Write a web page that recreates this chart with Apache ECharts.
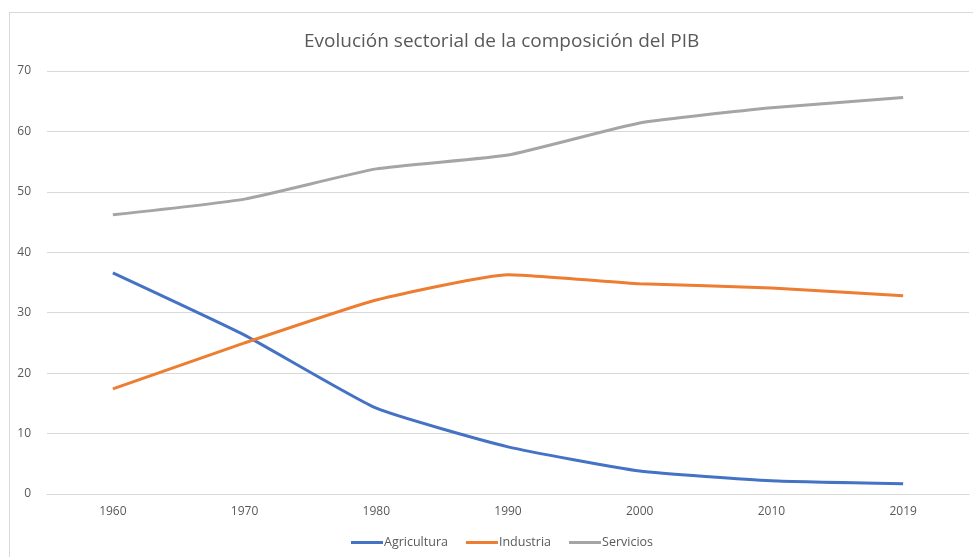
<!DOCTYPE html>
<html>
<head>
<meta charset="utf-8">
<script src="https://cdn.jsdelivr.net/npm/echarts@6/dist/echarts.min.js"></script>
<style>
  html, body { margin: 0; padding: 0; background: #fff; }
  #frame {
    position: absolute; left: 9px; top: 12px; width: 980px; height: 560px;
    border: 1px solid #d9d9d9; box-sizing: border-box;
  }
  #chart { position: absolute; left: 0; top: 0; width: 973px; height: 557px; }
</style>
</head>
<body>
<div id="frame"></div>
<div id="chart"></div>
<script>
// datos
const years = ['1960', '1970', '1980', '1990', '2000', '2010', '2019']
const agricultura = [36.6, 26.3, 14.2, 7.8, 3.8, 2.2, 1.7]
const industria = [17.4, 25.0, 32.1, 36.3, 34.8, 34.1, 32.8]
const servicios = [46.2, 48.8, 53.8, 56.1, 61.4, 63.9, 65.6]

const font = '"Open Sans", "Liberation Sans", sans-serif'

const chart = echarts.init(document.getElementById('chart'))

const makeSeries = (name, data, color) => ({
  name: name,
  type: 'line',
  data: data,
  smooth: 0.15,
  symbol: 'none',
  lineStyle: { color: color, width: 3 },
  itemStyle: { color: color }
})

chart.setOption({
  animation: false,
  textStyle: { fontFamily: font },
  title: {
    text: 'Evolución sectorial de la composición del PIB',
    left: 299,
    top: 27,
    textStyle: { fontFamily: font, fontSize: 19, fontWeight: 'normal', color: '#595959' }
  },
  legend: {
    bottom: 3,
    left: 346,
    itemWidth: 32,
    itemHeight: 3,
    itemGap: 18,
    icon: 'rect',
    textStyle: { fontFamily: font, fontSize: 12.5, color: '#595959', padding: [0, 0, 0, -4] },
    data: ['Agricultura', 'Industria', 'Servicios']
  },
  grid: { left: 47, right: 4, top: 71, bottom: 63, containLabel: false },
  xAxis: {
    type: 'category',
    data: years,
    boundaryGap: true,
    axisLine: { lineStyle: { color: '#d9d9d9', width: 1 } },
    axisTick: { show: false },
    axisLabel: { color: '#595959', fontSize: 12, fontFamily: font, margin: 12 }
  },
  yAxis: {
    type: 'value',
    min: 0,
    max: 70,
    interval: 10,
    axisLine: { show: false },
    axisTick: { show: false },
    axisLabel: { color: '#595959', fontSize: 12, fontFamily: font, margin: 16 },
    splitLine: { lineStyle: { color: '#d9d9d9', width: 1 } }
  },
  series: [
    makeSeries('Agricultura', agricultura, '#4472C4'),
    makeSeries('Industria', industria, '#ED7D31'),
    makeSeries('Servicios', servicios, '#A5A5A5')
  ]
})
</script>
</body>
</html>
